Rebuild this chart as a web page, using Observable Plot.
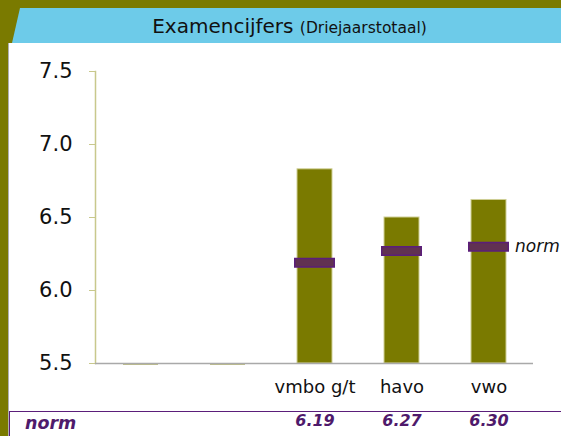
<!DOCTYPE html>
<html>
<head>
<meta charset="utf-8">
<script src="https://cdn.jsdelivr.net/npm/d3@7"></script>
<script src="https://cdn.jsdelivr.net/npm/@observablehq/plot@0.6"></script>
<style>
  html, body { margin: 0; padding: 0; }
  body { width: 561px; height: 436px; overflow: hidden; font-family: "DejaVu Sans", Verdana, sans-serif; }
  #wrap { position: relative; width: 561px; height: 436px; background: #7a7a00; overflow: hidden; }
  #header { position: absolute; top: 8px; left: 0; width: 561px; height: 35px; background: #6dcbe9;
            clip-path: polygon(20px 0, 100% 0, 100% 100%, 12px 100%); }
  #title { position: absolute; top: 8px; left: 18px; right: 0; height: 35px; line-height: 36px; text-align: center; color: #111; font-size: 20px; white-space: nowrap; }
  #title small { font-size: 15.5px; }
  #panel { position: absolute; top: 43px; left: 8px; right: 0; bottom: 0; background: #fff; border-left: 1px solid #b0b0b0; }
  #chart { position: absolute; top: 43px; left: 9px; }
  #table { position: absolute; top: 411px; left: 9px; width: 600px; height: 60px; border: 1.5px solid #5b1e7a; box-sizing: border-box; pointer-events: none; }
  #normlab { position: absolute; top: 413px; left: 25px; font-size: 17.5px; font-weight: bold; font-style: italic; color: #4f1a6b; }
</style>
</head>
<body>
<div id="wrap">
  <div id="header"></div>
  <div id="title">Examencijfers <small>(Driejaarstotaal)</small></div>
  <div id="panel"></div>
  <div id="chart"></div>
  <div id="table"></div>
  <div id="normlab">norm</div>
</div>
<script>
const categories = [" ", "  ", "vmbo g/t", "havo", "vwo"];
const scores = [5.49, 5.49, 6.83, 6.50, 6.62];
const norms = [null, null, 6.19, 6.27, 6.30];
const normLabels = ["", "", "6.19", "6.27", "6.30"];
const yTicks = [5.5, 6.0, 6.5, 7.0, 7.5];

const data = categories.map((c, i) => ({cat: c, score: scores[i], norm: norms[i], normLabel: normLabels[i]}));
const withNorm = data.filter(d => d.norm != null);
const lastNorm = [withNorm[withNorm.length - 1]];

const OLIVE = "#7a7a00";
const font = "DejaVu Sans, Verdana, sans-serif";

const chart = Plot.plot({
  width: 552,
  height: 393,
  marginTop: 28,
  marginBottom: 73,
  marginLeft: 86,
  marginRight: 28,
  style: {fontFamily: font, background: "transparent", overflow: "visible"},
  x: {domain: categories, paddingInner: 0.6, paddingOuter: 0.3},
  y: {domain: [5.5, 7.5]},
  marks: [
    Plot.barY(data.filter(d => d.score > 5.5), {x: "cat", y1: 5.5, y2: "score", fill: OLIVE, stroke: "#cfcf95", strokeWidth: 1}),
    Plot.barY(data.filter(d => d.score <= 5.5), {x: "cat", y1: 5.5, y2: "score", fill: OLIVE}),
    Plot.frame({anchor: "left", stroke: "#c8c88c", strokeWidth: 1.5}),
    Plot.ruleY([5.5], {stroke: "#a9a9a9", strokeWidth: 1.5}),
    Plot.axisY({ticks: yTicks, tickFormat: d3.format(".1f"), tickSize: 6, tickPadding: 17, fontSize: 21, stroke: "#c8c88c", fill: "#111", label: null}),
    Plot.axisX({tickSize: 0, tickPadding: 17, fontSize: 18, fill: "#111", label: null}),
    Plot.tickY(withNorm, {x: "cat", y: "norm", stroke: "#5b1e7a", strokeWidth: 10, insetLeft: -3, insetRight: -3}),
    Plot.tickY(withNorm, {x: "cat", y: "norm", stroke: "#613152", strokeWidth: 7, insetLeft: -1.5, insetRight: -1.5}),
    Plot.text(lastNorm, {x: "cat", y: "norm", text: () => "norm", dx: 26, textAnchor: "start", fontSize: 17, fontStyle: "italic", fill: "#111"}),
    Plot.text(withNorm, {x: "cat", text: "normLabel", frameAnchor: "bottom", dy: 62, fontSize: 16, fontWeight: "bold", fontStyle: "italic", fill: "#4f1a6b"})
  ]
});
document.getElementById("chart").appendChild(chart);
</script>
</body>
</html>
